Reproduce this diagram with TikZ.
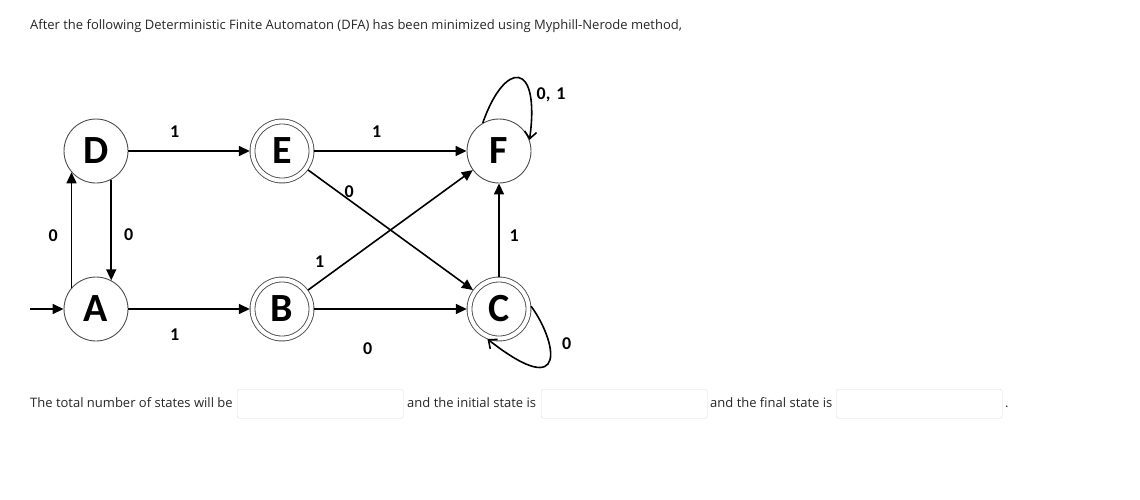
\documentclass[tikz,border=0pt]{standalone}
\usepackage{fontspec}
\setmainfont{Open Sans}
\newfontfamily\statefont{Carlito}[UprightFont={* Bold}]
\usetikzlibrary{positioning, arrows.meta}

\begin{document}
\begin{tikzpicture}[
    x=1pt, y=-1pt, on grid,
    state/.style={draw=black!70, circle, line width=0.9pt, minimum size=64pt, inner sep=0pt, font=\statefont\fontsize{40}{40}\selectfont},
    accept/.style={state, double, double distance=4pt, minimum size=59pt, outer sep=2.7pt},
    arr/.style={-{Triangle[length=11pt, width=10pt]}, line width=1.6pt},
    loopy/.style={-{Straight Barb[length=7pt, width=12pt]}, line width=1.6pt},
    lbl/.style={inner sep=0pt, font=\statefont\fontsize{18}{18}\selectfont},
    ansbox/.style={draw=black!13, rounded corners=2pt, minimum width=166pt, minimum height=29pt, inner sep=0pt, anchor=north west},
    txt/.style={inner sep=0pt, anchor=base west, text=black!85, font=\fontsize{13}{15}\selectfont}
]
    \useasboundingbox (0,0) rectangle (1140,499);

    \node[txt] (question) at (30,29.5) {After the following Deterministic Finite Automaton (DFA) has been minimized using Myphill-Nerode method,};

    % states
    \node[state] (A) at (96,309) {A};
    \node[state] (D) [above=158pt of A] {D};
    \node[accept] (B) [right=186pt of A] {B};
    \node[accept] (E) [above=158pt of B] {E};
    \node[accept] (C) [right=217pt of B] {C};
    \node[state] (F) [above=158pt of C] {F};
    \coordinate (start) at (30,309);

    % transitions
    \draw[arr] (start) -- (A);
    \draw[arr] (A.139) -- node[lbl, pos=0.45, left=13pt] {0} (D.221);
    \draw[arr] (D.298) -- node[lbl, pos=0.55, right=12pt] {0} (A.62);
    \draw[arr] (D) -- node[lbl, pos=0.38, above=12.6pt] {1} (E);
    \draw[arr] (E) -- node[lbl, pos=0.41, above=12.6pt] {1} (F);
    \draw[arr] (A) -- node[lbl, pos=0.38, below=18.6pt] {1} (B);
    \draw[arr] (B) -- node[lbl, pos=0.35, below=32.6pt] {0} (C);
    \draw[arr] (E) -- node[lbl, pos=0.25, above=2pt] {0} (C);
    \draw[arr] (B) -- node[lbl, pos=0.07, above=13pt] {1} (F);
    \draw[arr] (C) -- node[lbl, pos=0.44, right=9.7pt] {1} (F);
    \draw[loopy] (F.120) .. controls +(22,-63) and +(11,-80) .. node[lbl, pos=0.75, right=6pt] {0,\,\,1} (F.20);
    \draw[loopy] (C.5) .. controls +(25,34) and +(83,65) .. node[lbl, pos=0.33, right=12pt] {0} (C.249);

    % answer line
    \node[txt] (total) at (30,407) {The total number of states will be};
    \node[ansbox] (count) at (237,389) {};
    \node[txt] (initial) at (407,407) {and the initial state is};
    \node[ansbox] (first) at (541,389) {};
    \node[txt] (final) at (710,407) {and the final state is};
    \node[ansbox] (last) at (836,389) {};
    \node[txt] (dot) at (1005,407) {.};
\end{tikzpicture}
\end{document}
